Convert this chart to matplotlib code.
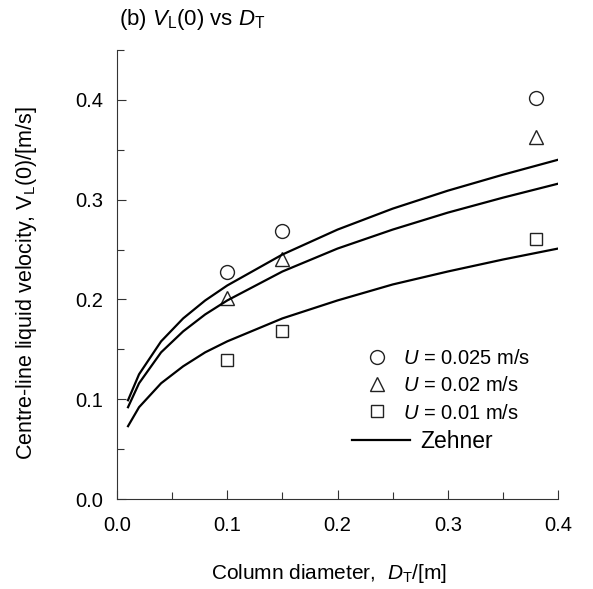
import matplotlib
matplotlib.use("Agg")
import matplotlib.pyplot as plt
from matplotlib.ticker import MultipleLocator
from matplotlib.lines import Line2D

plt.rcParams["font.family"] = ["Liberation Sans", "DejaVu Sans"]
plt.rcParams["mathtext.fontset"] = "custom"
plt.rcParams["mathtext.rm"] = "Liberation Sans"
plt.rcParams["mathtext.it"] = "Liberation Sans:italic"

# measured points
d_meas = [0.1, 0.15, 0.38]
v_u025 = [0.228, 0.269, 0.402]
v_u020 = [0.201, 0.241, 0.363]
v_u010 = [0.139, 0.168, 0.261]

# Zehner curves
d_curve = [0.01, 0.02, 0.04, 0.06, 0.08, 0.1, 0.15, 0.2, 0.25, 0.3, 0.35, 0.4]
z_u025 = [0.099, 0.125, 0.158, 0.181, 0.199, 0.214, 0.245, 0.270, 0.291, 0.309, 0.325, 0.340]
z_u020 = [0.092, 0.116, 0.147, 0.168, 0.185, 0.199, 0.228, 0.251, 0.270, 0.287, 0.302, 0.316]
z_u010 = [0.073, 0.092, 0.116, 0.133, 0.147, 0.158, 0.181, 0.199, 0.215, 0.228, 0.240, 0.251]

fig = plt.figure(figsize=(5.93, 5.89), dpi=100)
ax = fig.add_axes([0.1973, 0.1528, 0.7437, 0.7623])

mk = dict(linestyle="none", markerfacecolor="none", markeredgecolor="#222222",
          markeredgewidth=1.0)
h1, = ax.plot(d_meas, v_u025, marker="o", markersize=10, **mk)
h2, = ax.plot(d_meas, v_u020, marker="^", markersize=10, **mk)
h3, = ax.plot(d_meas, v_u010, marker="s", markersize=8.5, **mk)

for z in (z_u025, z_u020, z_u010):
    ax.plot(d_curve, z, color="black", lw=1.6)

ax.set_xlim(0, 0.4)
ax.set_ylim(0, 0.45)
ax.xaxis.set_major_locator(MultipleLocator(0.1))
ax.xaxis.set_minor_locator(MultipleLocator(0.05))
ax.yaxis.set_major_locator(MultipleLocator(0.1))
ax.yaxis.set_minor_locator(MultipleLocator(0.05))
ax.tick_params(which="both", direction="in", labelsize=14.5, width=0.8, color="#333333")
ax.tick_params(which="major", length=6.5)
ax.tick_params(which="minor", length=5)
ax.tick_params(axis="x", which="major", pad=12)
ax.tick_params(axis="y", which="major", pad=10)
ax.xaxis.set_major_formatter(plt.FormatStrFormatter("%.1f"))
ax.yaxis.set_major_formatter(plt.FormatStrFormatter("%.1f"))

ax.spines["top"].set_visible(False)
ax.spines["right"].set_visible(False)
for s in ("left", "bottom"):
    ax.spines[s].set_linewidth(0.8)
    ax.spines[s].set_color("#333333")

ax.set_xlabel(r"Column diameter,  $D_{\mathrm{T}}$/[m]", fontsize=15)
ax.xaxis.set_label_coords(0.481, -0.14)
ax.xaxis.label.set_va("top")
ax.set_ylabel(r"Centre-line liquid velocity, V$_{\mathrm{L}}$(0)/[m/s]", fontsize=15.5)
ax.yaxis.set_label_coords(-0.176, 0.48)
ax.set_title(r"(b) $V_{\mathrm{L}}$(0) vs $D_{\mathrm{T}}$", fontsize=16, loc="left", x=0.005, pad=18)

leg1 = ax.legend([h1, h2, h3],
                 [r"$U$ = 0.025 m/s", r"$U$ = 0.02 m/s", r"$U$ = 0.01 m/s"],
                 loc="center left", bbox_to_anchor=(0.567, 0.2517), frameon=False,
                 fontsize=14.5, handlelength=1.0, handletextpad=0.8, labelspacing=0.4,
                 borderpad=0, borderaxespad=0)
ax.add_artist(leg1)
zl = Line2D([], [], color="black", lw=1.6)
ax.legend([zl], ["Zehner"], loc="center left", bbox_to_anchor=(0.533, 0.127),
          frameon=False, fontsize=16.5, handlelength=2.53, handletextpad=0.44,
          borderpad=0, borderaxespad=0)

fig.savefig("out.png", dpi=100)
